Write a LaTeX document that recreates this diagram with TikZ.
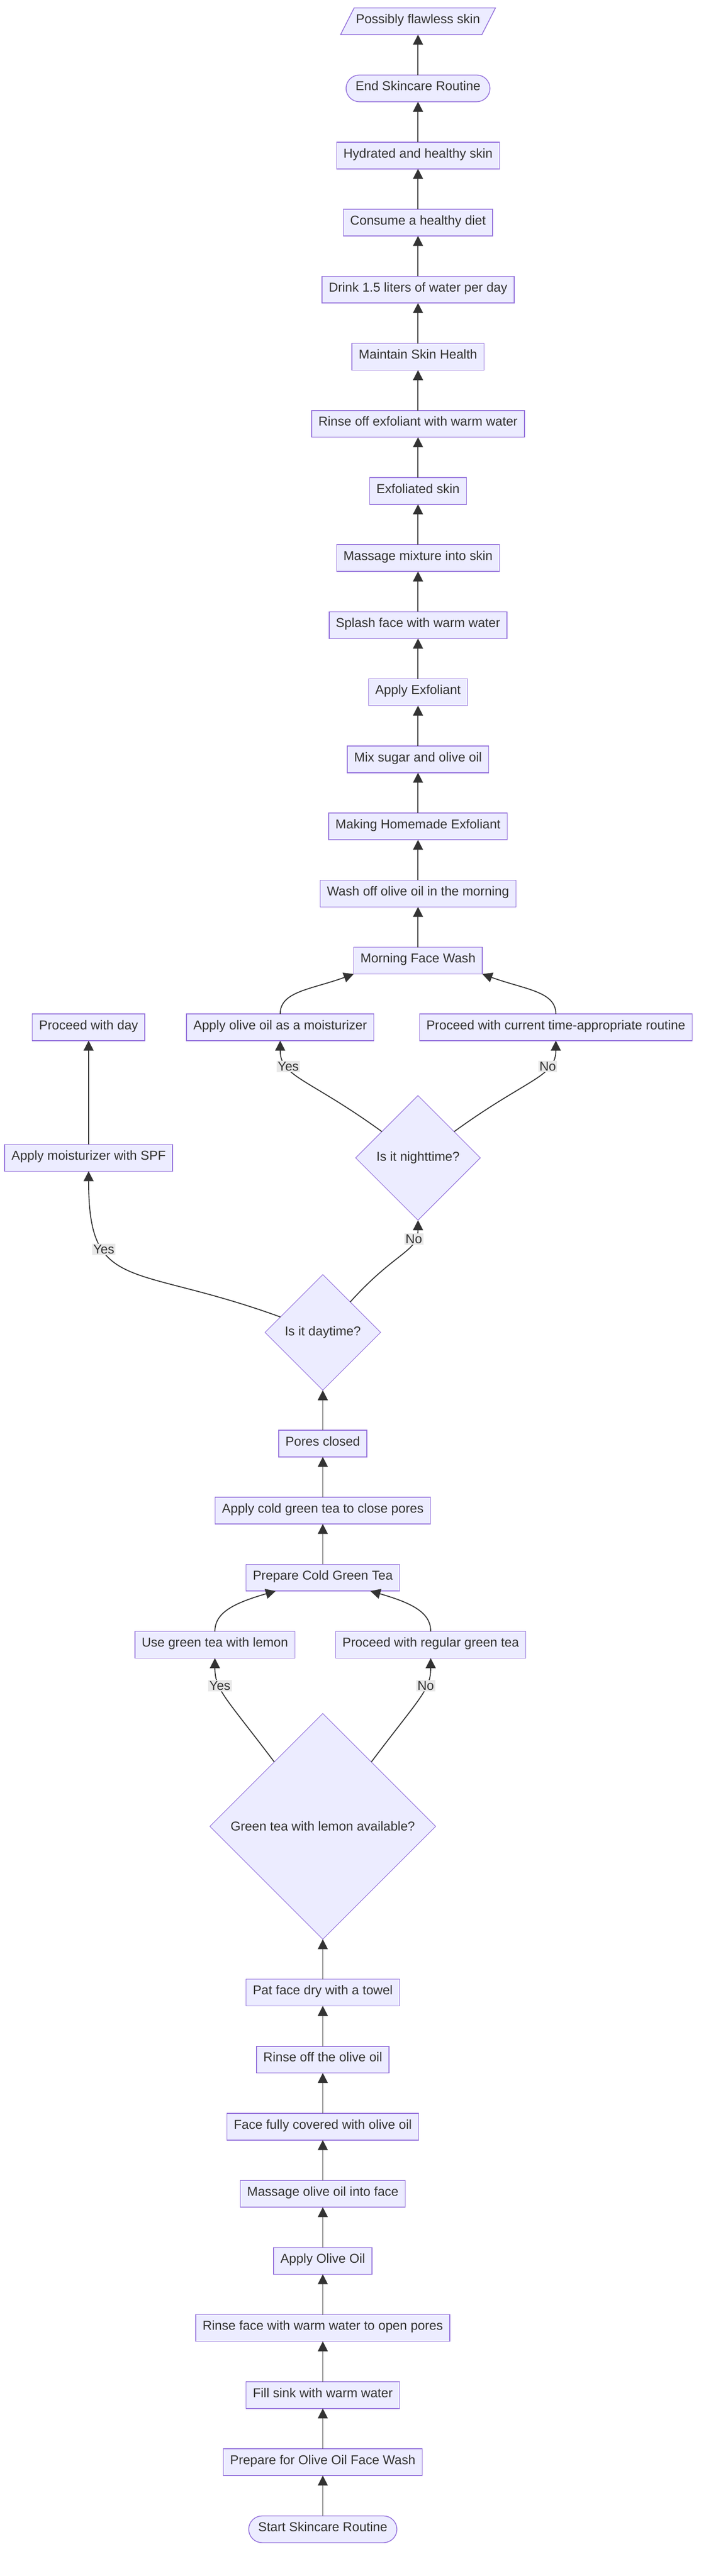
\documentclass[tikz,border=0pt]{standalone}
\usepackage{fontspec}
\setmainfont{Liberation Sans}
\usetikzlibrary{positioning, arrows.meta, shapes.geometric, backgrounds}

\definecolor{nodefill}{HTML}{ECECFF}
\definecolor{nodeline}{HTML}{9370DB}
\definecolor{edgeline}{HTML}{333333}
\definecolor{lblfill}{HTML}{E8E8E8}

\begin{document}
\begin{tikzpicture}[
    node distance=1.78cm,
    font=\fontsize{16.2}{19}\selectfont,
    box/.style={rectangle, draw=nodeline, fill=nodefill, line width=1pt, outer sep=0pt, text=edgeline, minimum height=1.18cm, inner xsep=0.3cm, text height=0.75em, text depth=0.2em},
    stadium/.style={box, rounded corners=0.59cm, inner xsep=0.42cm},
    decision/.style={diamond, aspect=1, draw=nodeline, fill=nodefill, line width=0.7pt, outer sep=0pt, text=edgeline, inner sep=0pt},
    answer/.style={fill=lblfill, text=edgeline, inner sep=1.5pt},
    arrow/.style={-{Triangle[length=0.44cm, width=0.44cm]}, line width=1.2pt, draw=edgeline}
]
    \useasboundingbox (0,0) rectangle (31.36,113.64);

    % Olive oil wash
    \node (start) [stadium] at (14.24,2.06) {Start Skincare Routine};
    \node (prep) [box, above=of start] {Prepare for Olive Oil Face Wash};
    \node (sink) [box, above=of prep] {Fill sink with warm water};
    \node (open) [box, above=of sink] {Rinse face with warm water to open pores};
    \node (oil) [box, above=of open] {Apply Olive Oil};
    \node (massage) [box, above=of oil] {Massage olive oil into face};
    \node (covered) [box, above=of massage] {Face fully covered with olive oil};
    \node (rinseoil) [box, above=of covered] {Rinse off the olive oil};
    \node (dry) [box, above=of rinseoil] {Pat face dry with a towel};

    % Green tea
    \node (lemon) [decision, minimum size=9.96cm, above=1.76cm of dry] {Green tea with lemon available?};
    \node (uselemon) [box, above=2.44cm of lemon, xshift=-4.76cm] {Use green tea with lemon};
    \node (regular) [box, above=2.44cm of lemon, xshift=4.76cm] {Proceed with regular green tea};
    \node (tea) [box, above=of uselemon, xshift=4.76cm] {Prepare Cold Green Tea};
    \node (cold) [box, above=of tea] {Apply cold green tea to close pores};
    \node (pores) [box, above=of cold] {Pores closed};

    % Day or night
    \node (day) [decision, minimum size=5.1cm, above=1.76cm of pores] {Is it daytime?};
    \node (night) [decision, minimum size=5.5cm, above=2.4cm of day, xshift=4.2cm] {Is it nighttime?};
    \node (spf) [box, left=8.08cm of night] {Apply moisturizer with SPF};
    \node (proceed) [box, above=4.58cm of spf] {Proceed with day};
    \node (moist) [box, above=2.42cm of night, xshift=-6.08cm] {Apply olive oil as a moisturizer};
    \node (current) [box, above=2.42cm of night, xshift=6.08cm] {Proceed with current time-appropriate routine};

    % Morning wash and exfoliant
    \node (morning) [box, above=1.76cm of moist, xshift=6.08cm] {Morning Face Wash};
    \node (washoff) [box, above=of morning] {Wash off olive oil in the morning};
    \node (homemade) [box, above=of washoff] {Making Homemade Exfoliant};
    \node (mix) [box, above=of homemade] {Mix sugar and olive oil};
    \node (exfol) [box, above=of mix] {Apply Exfoliant};
    \node (splash) [box, above=of exfol] {Splash face with warm water};
    \node (rub) [box, above=of splash] {Massage mixture into skin};
    \node (exfoliated) [box, above=of rub] {Exfoliated skin};
    \node (rinseexf) [box, above=of exfoliated] {Rinse off exfoliant with warm water};
    \node (health) [box, above=of rinseexf] {Maintain Skin Health};
    \node (drink) [box, above=of health] {Drink 1.5 liters of water per day};
    \node (diet) [box, above=of drink] {Consume a healthy diet};
    \node (hydrated) [box, above=of diet] {Hydrated and healthy skin};
    \node (finish) [stadium, above=of hydrated] {End Skincare Routine};
    \node (flawless) [box, draw=none, fill=none, inner xsep=0.38cm, above=of finish] {Possibly flawless skin};

    % Parallelogram behind the last node
    \begin{scope}[on background layer]
        \draw[draw=nodeline, fill=nodefill, line width=1pt] ([xshift=-0.3cm]flawless.south west) -- ([xshift=0.3cm]flawless.north west) -- ([xshift=0.3cm]flawless.north east) -- ([xshift=-0.3cm]flawless.south east) -- cycle;
    \end{scope}

    % Straight connectors
    \draw[arrow] (start) -- (prep);
    \draw[arrow] (prep) -- (sink);
    \draw[arrow] (sink) -- (open);
    \draw[arrow] (open) -- (oil);
    \draw[arrow] (oil) -- (massage);
    \draw[arrow] (massage) -- (covered);
    \draw[arrow] (covered) -- (rinseoil);
    \draw[arrow] (rinseoil) -- (dry);
    \draw[arrow] (dry) -- (lemon);
    \draw[arrow] (tea) -- (cold);
    \draw[arrow] (cold) -- (pores);
    \draw[arrow] (pores) -- (day);
    \draw[arrow] (spf) -- (proceed);
    \draw[arrow] (morning) -- (washoff);
    \draw[arrow] (washoff) -- (homemade);
    \draw[arrow] (homemade) -- (mix);
    \draw[arrow] (mix) -- (exfol);
    \draw[arrow] (exfol) -- (splash);
    \draw[arrow] (splash) -- (rub);
    \draw[arrow] (rub) -- (exfoliated);
    \draw[arrow] (exfoliated) -- (rinseexf);
    \draw[arrow] (rinseexf) -- (health);
    \draw[arrow] (health) -- (drink);
    \draw[arrow] (drink) -- (diet);
    \draw[arrow] (diet) -- (hydrated);
    \draw[arrow] (hydrated) -- (finish);
    \draw[arrow] (finish) -- (flawless);

    % Branches
    \draw[arrow] (lemon) to[out=127, in=-90, out distance=3.6cm, in distance=1.4cm] node[answer, pos=0.65] {Yes} (uselemon);
    \draw[arrow] (lemon) to[out=53, in=-90, out distance=3.6cm, in distance=1.4cm] node[answer, pos=0.65] {No} (regular);
    \draw[arrow] (uselemon) to[out=90, in=196, out distance=0.8cm, in distance=2cm] ([xshift=-2.08cm]tea.south);
    \draw[arrow] (regular) to[out=90, in=-16, out distance=0.8cm, in distance=2cm] ([xshift=2.1cm]tea.south);
    \draw[arrow] (day) to[out=160, in=-90, out distance=7cm, in distance=5.4cm] node[answer, pos=0.68] {Yes} (spf);
    \draw[arrow] (day) to[out=48, in=-90, out distance=3cm, in distance=1.4cm] node[answer, pos=0.75] {No} (night);
    \draw[arrow] (night) to[out=144, in=-90, out distance=4cm, in distance=1.6cm] node[answer, pos=0.7] {Yes} (moist);
    \draw[arrow] (night) to[out=36, in=-90, out distance=4cm, in distance=1.6cm] node[answer, pos=0.7] {No} (current);
    \draw[arrow] (moist) to[out=90, in=200, out distance=1cm, in distance=2cm] (morning.south west);
    \draw[arrow] (current) to[out=90, in=-20, out distance=1cm, in distance=2cm] (morning.south east);

\end{tikzpicture}
\end{document}
